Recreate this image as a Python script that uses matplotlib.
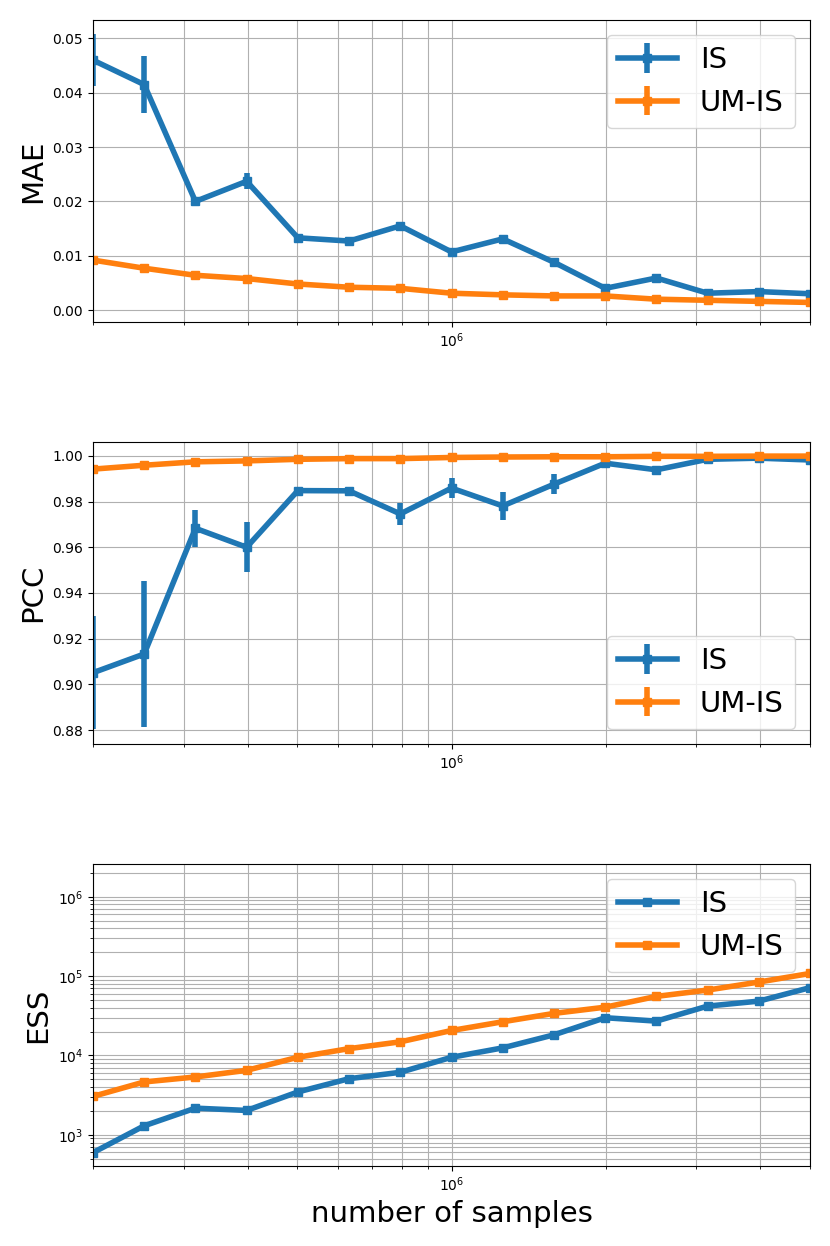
import numpy as np
import matplotlib
matplotlib.use('Agg')
import matplotlib.pyplot as plt

# number of samples (0.1 decade steps)
n_samples = np.logspace(5.3, 6.7, 15)

# MAE
mae_is = [0.0460, 0.0415, 0.0200, 0.0237, 0.0133, 0.0127, 0.0155, 0.0107,
          0.0131, 0.0088, 0.0040, 0.0059, 0.0031, 0.0034, 0.0030]
mae_is_err = [0.0048, 0.0052, 0.0004, 0.0015, 0.0003, 0.0003, 0.0004, 0.0003,
              0.0003, 0.0004, 0.0003, 0.0003, 0.0002, 0.0002, 0.0002]
mae_um = [0.0092, 0.0077, 0.0064, 0.0058, 0.0048, 0.0042, 0.0040, 0.0031,
          0.0028, 0.0026, 0.0026, 0.0020, 0.0018, 0.0016, 0.0014]
mae_um_err = [0.0002, 0.0002, 0.0001, 0.0001, 0.0001, 0.0001, 0.0001, 0.0001,
              0.0001, 0.0001, 0.0001, 0.0001, 0.0001, 0.0001, 0.0001]

# PCC
pcc_is = [0.9051, 0.9133, 0.9683, 0.9600, 0.9848, 0.9847, 0.9746, 0.9859,
          0.9781, 0.9876, 0.9968, 0.9939, 0.9985, 0.9990, 0.9982]
pcc_is_err = [0.0247, 0.0320, 0.0080, 0.0110, 0.0008, 0.0008, 0.0048, 0.0045,
              0.0060, 0.0045, 0.0008, 0.0008, 0.0005, 0.0005, 0.0005]
pcc_um = [0.9942, 0.9959, 0.9974, 0.9978, 0.9985, 0.9988, 0.9988, 0.9993,
          0.9995, 0.9996, 0.9996, 0.9998, 0.9998, 0.9999, 0.9999]
pcc_um_err = [0.0004, 0.0003, 0.0002, 0.0002, 0.0001, 0.0001, 0.0001, 0.0001,
              0.0001, 0.0001, 0.0001, 0.0001, 0.0001, 0.0001, 0.0001]

# ESS
ess_is = [597, 1300, 2170, 2030, 3470, 5100, 6140, 9490,
          12470, 18200, 29900, 27100, 41900, 48400, 71600]
ess_um = [3050, 4640, 5360, 6500, 9490, 12200, 14860, 20640,
          26600, 33900, 40600, 55500, 66700, 84200, 108000]

labels = ['IS', 'UM-IS']
big = 21

fig = plt.figure(figsize=(8.3, 12.46), dpi=100)
fig.subplots_adjust(left=0.112, right=0.976, top=0.984, bottom=0.0642, hspace=0.397)
ax1 = fig.add_subplot(3, 1, 1)
ax2 = fig.add_subplot(3, 1, 2)
ax3 = fig.add_subplot(3, 1, 3)

style = dict(linewidth=4, elinewidth=4, marker='s', markersize=6, capsize=0)

# MAE
ax1.errorbar(n_samples, mae_is, yerr=mae_is_err, label=labels[0], **style)
ax1.errorbar(n_samples, mae_um, yerr=mae_um_err, label=labels[1], **style)
ax1.set_ylabel('MAE', fontsize=big)
ax1.set_ylim(-0.0022, 0.0534)
ax1.legend(loc='upper right', fontsize=big)

# PCC
ax2.errorbar(n_samples, pcc_is, yerr=pcc_is_err, label=labels[0], **style)
ax2.errorbar(n_samples, pcc_um, yerr=pcc_um_err, label=labels[1], **style)
ax2.set_ylabel('PCC', fontsize=big)
ax2.set_ylim(0.8739, 1.0061)
ax2.legend(loc='lower right', fontsize=big)

# ESS
ax3.plot(n_samples, ess_is, label=labels[0], linewidth=4, marker='s', markersize=6)
ax3.plot(n_samples, ess_um, label=labels[1], linewidth=4, marker='s', markersize=6)
ax3.set_yscale('log')
ax3.set_ylim(405, 2.59e6)
ax3.set_ylabel('ESS', fontsize=big)
ax3.set_xlabel('number of samples', fontsize=big)
ax3.legend(loc='upper right', fontsize=big)

for ax in (ax1, ax2, ax3):
    ax.set_xscale('log')
    ax.set_xlim(n_samples[0], n_samples[-1])
    ax.grid(True, which='both')

fig.savefig('out.png', dpi=100)
